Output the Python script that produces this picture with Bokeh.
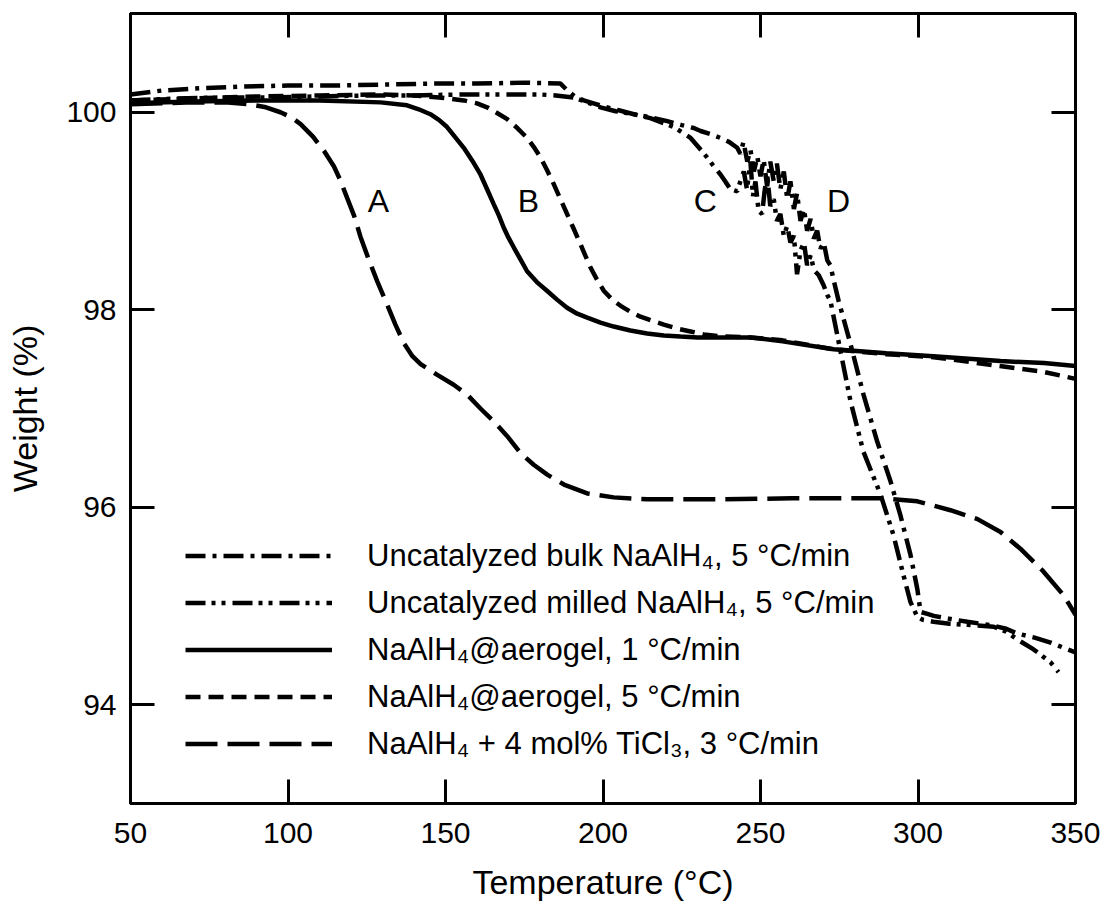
from bokeh.plotting import figure
from bokeh.models import (Range1d, FixedTicker, LinearAxis, Legend, LegendItem,
                          CustomJSTickFormatter)
from bokeh.core.properties import value
from bokeh.embed import file_html
from bokeh.resources import INLINE

# ---------------- data ----------------
# A: NaAlH4 + 4 mol% TiCl3, 3 °C/min
t_ti = [50, 60, 70, 80, 88, 93, 97.6, 101, 104, 108, 111.4, 114.6, 116.5, 118.8, 121, 123,
        125.5, 128.3, 131.5, 134.1, 136.8, 139.5, 142.1, 147.4, 152.6, 156.9, 161.1, 165.3,
        169.6, 173.8, 178, 182.3, 187.6, 195, 203.4, 214, 235, 260, 289, 299.8, 310.3,
        318.9, 326.2, 332.5, 339.8, 346.2, 350]
w_ti = [100.08, 100.09, 100.10, 100.10, 100.08, 100.05, 100.00, 99.95, 99.88, 99.75, 99.61,
        99.45, 99.32, 99.13, 98.95, 98.74, 98.52, 98.29, 98.05, 97.85, 97.66, 97.53, 97.45,
        97.34, 97.24, 97.14, 97.00, 96.87, 96.72, 96.55, 96.43, 96.33, 96.23, 96.14, 96.10,
        96.08, 96.08, 96.09, 96.09, 96.06, 95.97, 95.88, 95.75, 95.58, 95.35, 95.11, 94.91]

# B: NaAlH4@aerogel, 1 °C/min
t_ag1 = [50, 70, 90, 110, 129.4, 137.8, 141.5, 145.2, 148, 150.5, 153, 155.8, 158.5, 161.1,
         163.2, 165.3, 167, 168.5, 170, 171.7, 173.8, 175.9, 179, 182.3, 185.5, 188.6, 191.8,
         195, 199.2, 203.4, 208.7, 214, 219.3, 224.6, 230, 237.3, 246.8, 257, 273.2, 290,
         304.9, 326.2, 340, 350]
w_ag1 = [100.09, 100.11, 100.12, 100.12, 100.10, 100.07, 100.03, 99.98, 99.92, 99.85, 99.75,
         99.64, 99.51, 99.37, 99.22, 99.07, 98.95, 98.83, 98.73, 98.63, 98.51, 98.39, 98.28,
         98.19, 98.10, 98.02, 97.96, 97.92, 97.87, 97.83, 97.79, 97.76, 97.74, 97.73, 97.72,
         97.72, 97.72, 97.68, 97.60, 97.56, 97.53, 97.48, 97.46, 97.43]

# NaAlH4@aerogel, 5 °C/min
t_ag5 = [50, 70, 90, 110, 130, 139.9, 148, 155.8, 160, 163.2, 166.5, 169.6, 172.8, 175.9, 178,
         180.2, 182.3, 184.4, 186.5, 188.6, 190.7, 192.9, 194.5, 196, 198, 200.3, 203, 205.6,
         208.7, 211.9, 215.5, 219.3, 223.5, 227.8, 232, 237.3, 246.8, 257, 273, 290, 305, 326,
         340, 350]
w_ag5 = [100.12, 100.14, 100.16, 100.17, 100.18, 100.17, 100.15, 100.12, 100.09, 100.05, 99.99,
         99.93, 99.84, 99.74, 99.65, 99.54, 99.41, 99.27, 99.12, 98.97, 98.82, 98.66, 98.54,
         98.43, 98.31, 98.19, 98.10, 98.04, 97.98, 97.93, 97.89, 97.85, 97.81, 97.78, 97.75,
         97.73, 97.72, 97.69, 97.60, 97.55, 97.52, 97.43, 97.37, 97.30]

# Uncatalyzed bulk NaAlH4, 5 °C/min
t_bulk = [50, 60, 70, 85, 100, 115, 130, 145, 160, 175, 186.5, 188.7, 191, 193.9, 197, 200,
          205, 209.8, 215, 220.4, 225, 228.8, 231, 234, 237.3, 240, 242.6, 243.6, 244.6,
          245.8, 246.8, 247.9, 249, 250, 251, 252.1, 253.1, 254.2, 255.2, 256.3, 257.4,
          258.5, 259.5, 260.6, 261.6, 262.7, 263.8, 264.8, 265.9, 266.9, 268, 269, 270.1,
          271.2, 272.2, 273.3, 274.8, 278.6, 282.7, 287.1, 291.3, 294.4, 297.6, 299.8, 300.8,
          303, 305, 310, 315.7, 320, 324, 328, 331.6, 337, 342.1, 346, 350]
w_bulk = [100.18, 100.22, 100.24, 100.26, 100.27, 100.27, 100.28, 100.29, 100.29, 100.30,
          100.29, 100.22, 100.16, 100.12, 100.09, 100.06, 100.02, 99.98, 99.95, 99.91, 99.87,
          99.84, 99.81, 99.78, 99.74, 99.70, 99.64, 99.58, 99.70, 99.50, 99.62, 99.40, 99.55,
          99.35, 99.52, 99.25, 99.50, 99.30, 99.48, 99.22, 99.40, 99.12, 99.30, 99.02, 99.18,
          98.90, 99.02, 98.80, 98.92, 98.72, 98.80, 98.62, 98.68, 98.50, 98.45, 98.29, 98.09,
          97.65, 97.14, 96.66, 96.26, 95.92, 95.52, 95.17, 94.94, 94.92, 94.90, 94.87, 94.84,
          94.82, 94.80, 94.77, 94.72, 94.68, 94.63, 94.58, 94.53]

# Uncatalyzed milled NaAlH4, 5 °C/min
t_mill = [50, 65, 80, 95, 110, 125, 140, 155, 170, 180, 185, 190.6, 195, 199.2, 204, 209.8,
          215, 222.5, 227.8, 230.5, 233.1, 235, 237.3, 239, 240.5, 242.6, 243.6, 244.7, 245.7,
          246.8, 247.6, 248.4, 249.4, 250.5, 251.3, 252.1, 253.1, 254.2, 255.2, 256.3, 257.4,
          258.5, 259.5, 260.6, 261.6, 262.7, 263.8, 264.8, 265.9, 267, 268.5, 270, 271.2,
          272.2, 275.4, 278.6, 282.7, 288.1, 292.2, 295.4, 297.6, 299.8, 301.5, 304.9, 310,
          315.7, 320, 324, 328, 331.6, 336.7, 342.1, 344.6]
w_mill = [100.12, 100.14, 100.15, 100.15, 100.16, 100.17, 100.17, 100.18, 100.18, 100.18,
          100.17, 100.15, 100.10, 100.05, 100.01, 99.98, 99.94, 99.85, 99.74, 99.64, 99.54,
          99.46, 99.37, 99.29, 99.22, 99.20, 99.30, 99.40, 99.22, 99.50, 99.15, 99.30, 99.00,
          98.97, 99.20, 99.38, 99.05, 99.12, 98.90, 98.97, 98.75, 98.85, 98.68, 98.75, 98.36,
          98.60, 98.68, 98.45, 98.55, 98.40, 98.35, 98.25, 98.15, 98.09, 97.58, 97.07, 96.56,
          96.13, 95.72, 95.31, 95.04, 94.89, 94.86, 94.84, 94.82, 94.81, 94.80, 94.79, 94.74,
          94.66, 94.56, 94.43, 94.33]

series_labels = ["Uncatalyzed bulk NaAlH\u2084, 5 \u00b0C/min",
                 "Uncatalyzed milled NaAlH\u2084, 5 \u00b0C/min",
                 "NaAlH\u2084@aerogel, 1 \u00b0C/min",
                 "NaAlH\u2084@aerogel, 5 \u00b0C/min",
                 "NaAlH\u2084 + 4 mol% TiCl\u2083, 3 \u00b0C/min"]

curve_tags = ["A", "B", "C", "D"]
tag_x = [128.7, 176.3, 232.5, 274.8]
tag_y = [99.10, 99.10, 99.10, 99.10]

x_ticks = [50, 100, 150, 200, 250, 300, 350]
y_ticks = [94, 96, 98, 100]
x_title = "Temperature (\u00b0C)"
y_title = "Weight (%)"

# ---------------- figure ----------------
FONT = "Liberation Sans"
INK = "#000000"

p = figure(frame_width=945, frame_height=790, output_backend="svg", toolbar_location=None,
           x_range=Range1d(50, 350), y_range=Range1d(93, 101),
           min_border_left=130, min_border_right=25, min_border_top=13,
           min_border_bottom=104, background_fill_color="white",
           border_fill_color="white")
p.grid.grid_line_color = None
p.outline_line_color = INK
p.outline_line_width = 3
p.outline_line_alpha = 1

def style_axis(ax, ticks, labels=True):
    ax.ticker = FixedTicker(ticks=ticks)
    ax.axis_line_color = INK
    ax.axis_line_width = 3
    ax.major_tick_line_color = INK
    ax.major_tick_line_width = 3
    ax.major_tick_in = 24
    ax.major_tick_out = 0
    ax.minor_tick_line_color = None
    ax.major_label_text_font = FONT
    ax.major_label_text_font_size = "30px"
    ax.major_label_text_color = INK
    ax.axis_label_text_font = FONT
    ax.axis_label_text_font_size = "34px"
    ax.axis_label_text_font_style = "normal"
    ax.axis_label_text_color = INK
    if not labels:
        ax.formatter = CustomJSTickFormatter(code="return ''")
        ax.major_label_standoff = 0
        ax.major_label_text_font_size = "0px"

style_axis(p.xaxis[0], x_ticks)
style_axis(p.yaxis[0], y_ticks)
p.xaxis[0].axis_label = x_title
p.yaxis[0].axis_label = y_title
p.xaxis[0].major_label_standoff = 19
p.xaxis[0].axis_label_standoff = 17
p.yaxis[0].major_label_standoff = 14
p.yaxis[0].axis_label_standoff = 19

top = LinearAxis()
style_axis(top, x_ticks, labels=False)
p.add_layout(top, "above")
right = LinearAxis()
style_axis(right, y_ticks, labels=False)
p.add_layout(right, "right")

LW = 4.5
r_bulk = p.line(t_bulk, w_bulk, line_color=INK, line_width=LW, line_dash="20 7 4 7")
r_mill = p.line(t_mill, w_mill, line_color=INK, line_width=LW, line_dash="20 6 4 6 4 7")
r_ag1 = p.line(t_ag1, w_ag1, line_color=INK, line_width=LW)
r_ag5 = p.line(t_ag5, w_ag5, line_color=INK, line_width=LW, line_dash="15 8")
r_ti = p.line(t_ti, w_ti, line_color=INK, line_width=LW, line_dash="32 10")

p.text(x=tag_x, y=tag_y, text=curve_tags, text_font=value(FONT), text_font_size="32px",
       text_color=INK, text_align="center", text_baseline="middle")

legend = Legend(items=[LegendItem(label=lab, renderers=[r]) for lab, r in
                       zip(series_labels, [r_bulk, r_mill, r_ag1, r_ag5, r_ti])],
                location=(55, 36), margin=0, padding=0, spacing=0,
                glyph_width=147, glyph_height=47, label_height=47, label_standoff=35,
                border_line_color=None, background_fill_alpha=0,
                label_text_font=FONT, label_text_font_size="31px",
                label_text_color=INK)
p.add_layout(legend)

open("out.html", "w").write(file_html(p, INLINE))
